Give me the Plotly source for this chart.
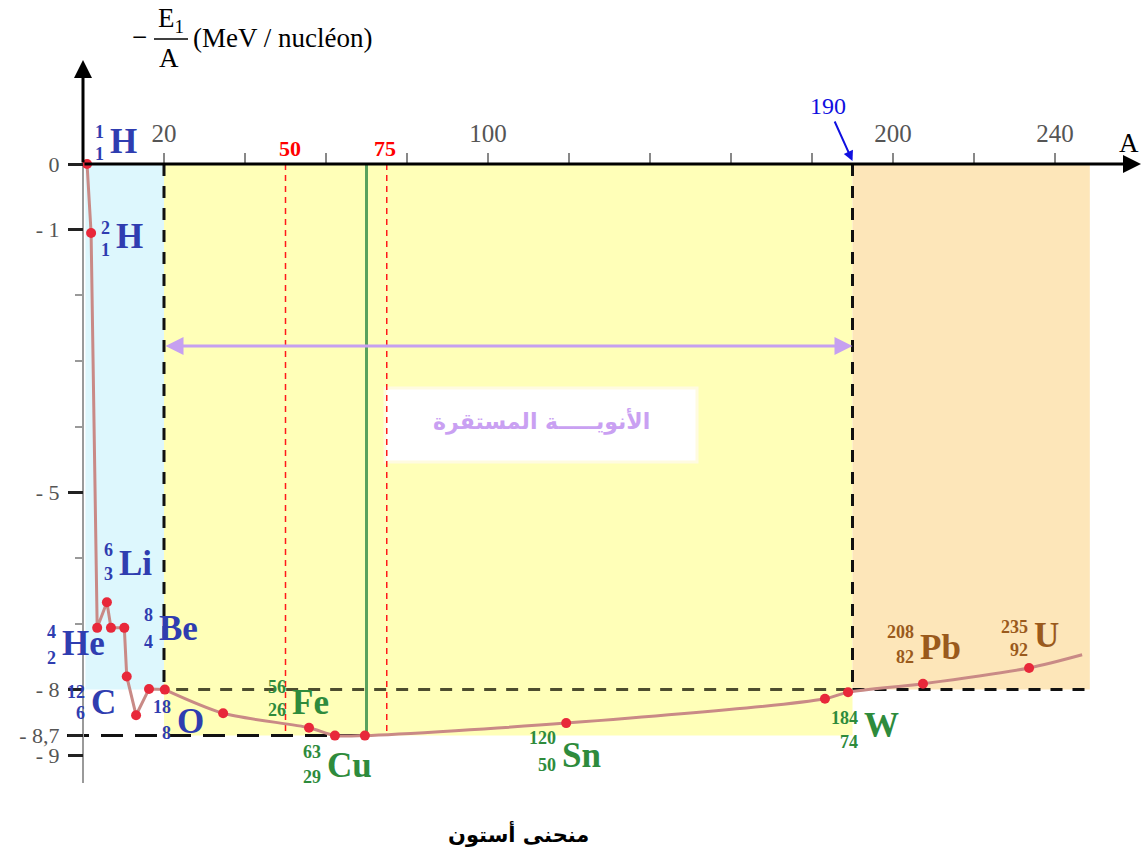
import plotly.graph_objects as go

# ---------------- data ----------------
A_nuclei = [1, 2, 3.5, 5.9, 6.9, 10.2, 10.8, 13.1, 16.3, 20.2, 34.6, 55.8, 62.2, 69.6,
            119.3, 183.2, 188.9, 207.4, 233.6]
E_nuclei = [0, -1.05, -7.06, -6.67, -7.06, -7.06, -7.8, -8.39, -7.99, -8.0, -8.36, -8.58,
            -8.7, -8.7, -8.51, -8.14, -8.04, -7.91, -7.67]
A_end = [246.7]
E_end = [-7.47]

x_tick_vals = [20, 100, 200, 240]
x_tick_text = ["20", "100", "200", "240"]
x_minor_vals = [40, 60, 80, 120, 140, 160, 180, 220]
y_tick_vals = [0, -1, -5, -8, -8.7, -9]
y_tick_text = ["0", "- 1", "- 5", "- 8", "- 8,7", "- 9"]
y_minor_vals = [-2, -3, -4, -6, -7]

A_light, A_stable_lo, A_stable_hi, A_heavy_end = 20, 20, 190, 248.6
E_lim_top, E_lim_low = -8, -8.7
A_red_lines = [50, 75]
A_green_line = 70

# isotopes: mass, Z, symbol
iso_mass = ["1", "2", "6", "4", "8", "12", "18", "56", "63", "120", "184", "208", "235"]
iso_z = ["1", "1", "3", "2", "4", "6", "8", "26", "29", "50", "74", "82", "92"]
iso_sym = ["H", "H", "Li", "He", "Be", "C", "O", "Fe", "Cu", "Sn", "W", "Pb", "U"]

# ---------------- geometry (pixel <-> data) ----------------
W, H = 1141, 854
X0, SX = 83, 4.05
Y0, SY = 164, 65.7


def ax(px):
    return (px - X0) / SX


def ey(py):
    return (Y0 - py) / SY


BLUE = "#2f3db0"
GREEN = "#2e8b3c"
BROWN = "#9a5a1c"
iso_color = [BLUE] * 7 + [GREEN] * 4 + [BROWN] * 2
# symbol left edge px, symbol centre y px, mass centre y px, Z centre y px
iso_pos = [
    (108, 141, 132, 154),
    (114, 236, 228, 250),
    (117, 563, 550, 574),
    (60, 643, 632, 658),
    (157, 628, 615, 642),
    (89, 702, 692, 713),
    (175, 721, 707, 733),
    (290, 702, 687, 710),
    (325, 765, 752, 777),
    (560, 755, 738, 765),
    (862, 725, 718, 742),
    (918, 647, 632, 657),
    (1032, 635, 627, 650),
]

fig = go.Figure()

CURVE = "#c98a86"
fig.add_trace(go.Scatter(x=A_nuclei[:10], y=E_nuclei[:10], mode="lines",
                         line=dict(color=CURVE, width=3), hoverinfo="skip", showlegend=False))
fig.add_trace(go.Scatter(x=A_nuclei[9:] + A_end, y=E_nuclei[9:] + E_end, mode="lines",
                         line=dict(color=CURVE, width=3, shape="spline", smoothing=0.8),
                         hoverinfo="skip", showlegend=False))
fig.add_trace(go.Scatter(x=A_nuclei, y=E_nuclei, mode="markers",
                         marker=dict(color="#e8283a", size=10), showlegend=False))

shapes = []
# coloured zones
shapes.append(dict(type="rect", xref="x", yref="y", x0=0.6, x1=A_light, y0=0, y1=E_lim_top,
                   fillcolor="#ddf7fd", line_width=0, layer="below"))
shapes.append(dict(type="rect", xref="x", yref="y", x0=A_stable_lo, x1=A_stable_hi, y0=0, y1=E_lim_low,
                   fillcolor="#ffffb8", line_width=0, layer="below"))
shapes.append(dict(type="rect", xref="x", yref="y", x0=A_stable_hi, x1=A_heavy_end, y0=0, y1=E_lim_top,
                   fillcolor="#fde6b9", line_width=0, layer="below"))
# white label box
shapes.append(dict(type="rect", xref="x", yref="y", x0=ax(385), x1=ax(697), y0=ey(388), y1=ey(462),
                   fillcolor="white", line=dict(color="#fffbe0", width=3), layer="below"))
# red dashed lines
for a in A_red_lines:
    shapes.append(dict(type="line", xref="x", yref="y", x0=a, x1=a, y0=0, y1=E_lim_low,
                       line=dict(color="#ff1a1a", width=1.5, dash="6px,5px"), layer="below"))
# green line
shapes.append(dict(type="line", xref="x", yref="y", x0=A_green_line, x1=A_green_line, y0=0, y1=E_lim_low,
                   line=dict(color="#5aa25e", width=3), layer="below"))
# black dashed verticals
for a in [A_light, A_stable_hi]:
    shapes.append(dict(type="line", xref="x", yref="y", x0=a, x1=a, y0=0, y1=E_lim_top,
                       line=dict(color="#111111", width=3, dash="12px,10px"), layer="below"))
# horizontal dashed lines
shapes.append(dict(type="line", xref="x", yref="y", x0=A_stable_lo + 3, x1=A_stable_hi, y0=E_lim_top, y1=E_lim_top,
                   line=dict(color="#4d4d2e", width=3, dash="12px,10px"), layer="below"))
shapes.append(dict(type="line", xref="x", yref="y", x0=A_stable_hi, x1=A_heavy_end, y0=E_lim_top, y1=E_lim_top,
                   line=dict(color="#111111", width=3, dash="12px,10px"), layer="below"))
shapes.append(dict(type="line", xref="x", yref="y", x0=ax(67), x1=A_green_line, y0=E_lim_low, y1=E_lim_low,
                   line=dict(color="#111111", width=3, dash="22px,12px"), layer="below"))
# y axis grey part
shapes.append(dict(type="line", xref="x", yref="y", x0=0, x1=0, y0=0, y1=ey(783),
                   line=dict(color="#9a9a9a", width=2), layer="below"))
# fraction bar of axis title
shapes.append(dict(type="line", xref="x", yref="y", x0=ax(154), x1=ax(188), y0=ey(39), y1=ey(39),
                   line=dict(color="black", width=1.5)))

ann = []
# axis arrows
ann.append(dict(x=ax(1141), y=0, ax=0, ay=0, xref="x", yref="y", axref="x", ayref="y", text="",
                showarrow=True, arrowhead=2, arrowsize=1.2, arrowwidth=3, arrowcolor="black"))
ann.append(dict(x=0, y=ey(60), ax=0, ay=0, xref="x", yref="y", axref="x", ayref="y", text="",
                showarrow=True, arrowhead=2, arrowsize=1.2, arrowwidth=3, arrowcolor="black"))
# stable range double arrow
ann.append(dict(x=A_stable_hi, y=ey(346), ax=A_stable_lo, ay=ey(346), xref="x", yref="y", axref="x", ayref="y",
                text="", showarrow=True, arrowhead=2, arrowside="end+start", arrowsize=1.2, arrowwidth=3,
                arrowcolor="#c6a0f0"))
# 190 pointer
ann.append(dict(x=A_stable_hi, y=ey(161), ax=ax(834), ay=ey(120), xref="x", yref="y", axref="x", ayref="y",
                text="", showarrow=True, arrowhead=2, arrowsize=1, arrowwidth=2, arrowcolor="#1010e0"))
ann.append(dict(x=ax(828), y=ey(106), xref="x", yref="y", text="190", showarrow=False,
                font=dict(family="Liberation Serif", size=24, color="#1010e0")))
# red 50 / 75
for a, px in zip(A_red_lines, [290, 385]):
    ann.append(dict(x=ax(px), y=ey(148), xref="x", yref="y", text="<b>%d</b>" % a, showarrow=False,
                    font=dict(family="Liberation Serif", size=22, color="#ff0000")))
# A label
ann.append(dict(x=ax(1129), y=ey(143), xref="x", yref="y", text="A", showarrow=False,
                font=dict(family="Liberation Serif", size=27, color="black")))
# axis title
TF = dict(family="Liberation Serif", size=27, color="black")
ann.append(dict(x=ax(139), y=ey(37), xref="x", yref="y", text="−", showarrow=False, font=TF))
ann.append(dict(x=ax(171), y=ey(20), xref="x", yref="y", text="E<sub>1</sub>", showarrow=False, font=TF))
ann.append(dict(x=ax(169), y=ey(58), xref="x", yref="y", text="A", showarrow=False, font=TF))
ann.append(dict(x=ax(191), y=ey(38), xref="x", yref="y", text="(MeV / nucléon)", showarrow=False,
                xanchor="left", font=TF))
# Arabic texts
ann.append(dict(x=ax(541), y=ey(421), xref="x", yref="y", text="<b>الأنويـــــة المستقرة</b>", showarrow=False,
                font=dict(family="DejaVu Sans", size=22, color="#c9a0f2")))
ann.append(dict(x=ax(518), y=ey(833), xref="x", yref="y", text="<b>منحنى أستون</b>", showarrow=False,
                font=dict(family="DejaVu Sans", size=21, color="black")))
# isotope labels
for m, z, s, c, (sl, sy, my, zy) in zip(iso_mass, iso_z, iso_sym, iso_color, iso_pos):
    ann.append(dict(x=ax(sl), y=ey(sy), xref="x", yref="y", text="<b>%s</b>" % s, showarrow=False,
                    xanchor="left", font=dict(family="Liberation Serif", size=35, color=c)))
    ann.append(dict(x=ax(sl - 2), y=ey(my), xref="x", yref="y", text="<b>%s</b>" % m, showarrow=False,
                    xanchor="right", font=dict(family="Liberation Serif", size=18, color=c)))
    ann.append(dict(x=ax(sl - 2), y=ey(zy), xref="x", yref="y", text="<b>%s</b>" % z, showarrow=False,
                    xanchor="right", font=dict(family="Liberation Serif", size=18, color=c)))

fig.update_layout(
    width=W, height=H, margin=dict(l=0, r=0, t=0, b=0),
    paper_bgcolor="white", plot_bgcolor="white",
    shapes=shapes, annotations=ann, showlegend=False,
    xaxis=dict(range=[ax(0), ax(W)], anchor="free", position=1 - Y0 / H, side="top",
               showgrid=False, zeroline=False, showline=False,
               tickmode="array", tickvals=x_tick_vals, ticktext=x_tick_text,
               ticks="outside", ticklen=11, tickwidth=1.5, tickcolor="#888888",
               ticklabelstandoff=1,
               minor=dict(tickvals=x_minor_vals, ticks="outside", ticklen=11, tickwidth=1.5, tickcolor="#888888"),
               tickfont=dict(family="Liberation Sans Narrow", size=25, color="#555555"),
               automargin=False, fixedrange=True),
    yaxis=dict(range=[ey(H), ey(0)], anchor="free", position=X0 / W,
               showgrid=False, zeroline=False, showline=False,
               tickmode="array", tickvals=y_tick_vals, ticktext=y_tick_text,
               ticks="outside", ticklen=15, tickwidth=3, tickcolor="#222222",
               ticklabelstandoff=4,
               minor=dict(tickvals=y_minor_vals, ticks="outside", ticklen=8, tickwidth=1.5, tickcolor="#999999"),
               tickfont=dict(family="Liberation Sans Narrow", size=22, color="#555555"),
               automargin=False, fixedrange=True),
)

fig.write_html("out.html", config={"displayModeBar": False},
               post_script="document.body.style.margin='0';")
